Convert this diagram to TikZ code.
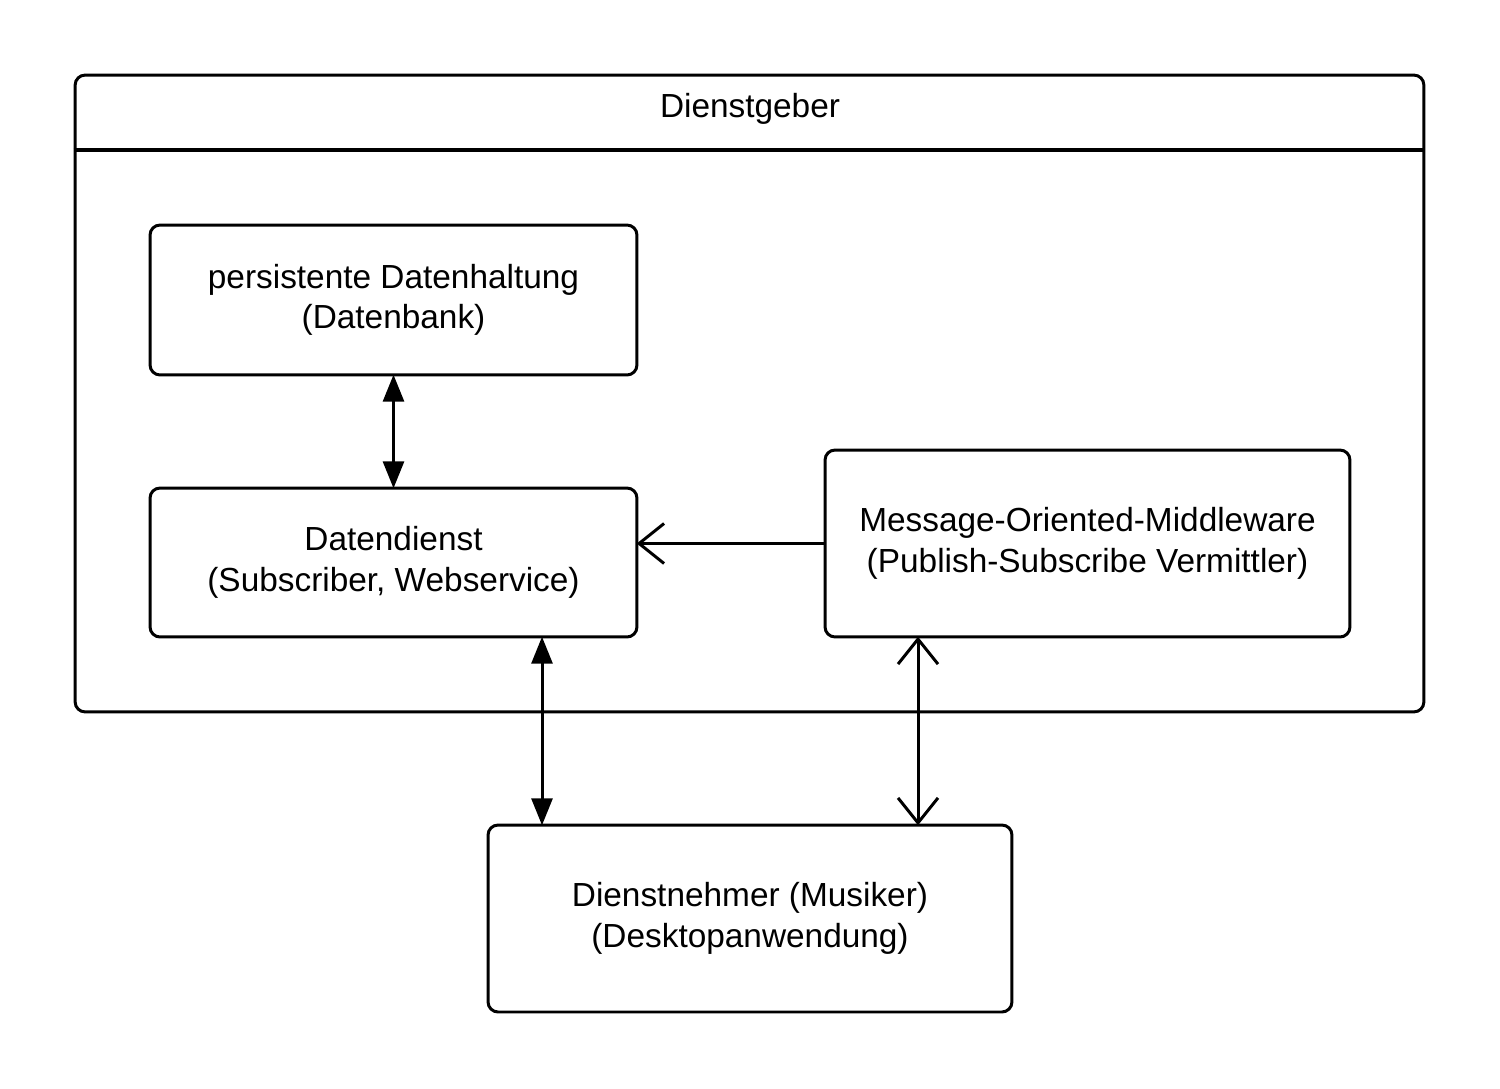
\documentclass[tikz,border=0pt]{standalone}
\usepackage{fontspec}
\setmainfont{Liberation Sans}
\usepackage{xcolor}
\usetikzlibrary{calc,arrows.meta}
\definecolor{bg}{HTML}{FFFFFF}
\definecolor{line}{HTML}{000000}
\tikzset{
  frame/.style={draw=line, line width=1.7pt, rounded corners=0.2cm},
  box/.style={frame, align=center, inner sep=0pt, font=\fontsize{19}{23}\selectfont},
  lab/.style={text=line, font=\fontsize{19}{23}\selectfont},
  conn/.style={draw=line, line width=1.7pt, shorten <=-1pt, shorten >=-1pt},
  solid2/.style={conn, {Triangle[length=0.54cm,width=0.42cm]}-{Triangle[length=0.54cm,width=0.42cm]}},
  open1/.style={conn, -{Straight Barb[length=0.5cm,width=0.8cm,line width=1.7pt]}},
  open2/.style={conn, {Straight Barb[length=0.5cm,width=0.8cm,line width=1.7pt]}-{Straight Barb[length=0.5cm,width=0.8cm,line width=1.7pt]}},
}

\begin{document}
\begin{tikzpicture}[x=0.02cm,y=-0.02cm]
  \useasboundingbox[fill=bg] (0,0) rectangle (1500,1088);

  % outer container with header
  \node[frame, minimum width=26.98cm, minimum height=12.74cm] (dg) at (749.5,393.5) {};
  \node[lab] (title) at (750,109) {Dienstgeber};
  \coordinate (hd) at (0,150);
  \draw[draw=line, line width=1.9pt] (dg.west |- hd) -- (dg.east |- hd);

  % boxes
  \node[box, minimum width=9.74cm, minimum height=3.0cm] (db) at (393.5,300)
    {persistente Datenhaltung\\(Datenbank)};
  \node[box, minimum width=9.74cm, minimum height=2.98cm] (dd) at (393.5,562.5)
    {Datendienst\\(Subscriber, Webservice)};
  \node[box, minimum width=10.5cm, minimum height=3.74cm] (mom) at (1087.5,543.5)
    {Message-Oriented-Middleware\\(Publish-Subscribe Vermittler)};
  \node[box, minimum width=10.48cm, minimum height=3.74cm] (dn) at (750,918.5)
    {Dienstnehmer (Musiker)\\(Desktopanwendung)};

  % connectors
  \coordinate (c1) at (542,0);
  \coordinate (c2) at (918,0);
  \draw[solid2] (db) -- (dd);
  \draw[open1] (mom.west) -- (mom.west -| dd.east);
  \draw[solid2] (dd.south -| c1) -- (dn.north -| c1);
  \draw[open2] (mom.south -| c2) -- (dn.north -| c2);
\end{tikzpicture}
\end{document}
